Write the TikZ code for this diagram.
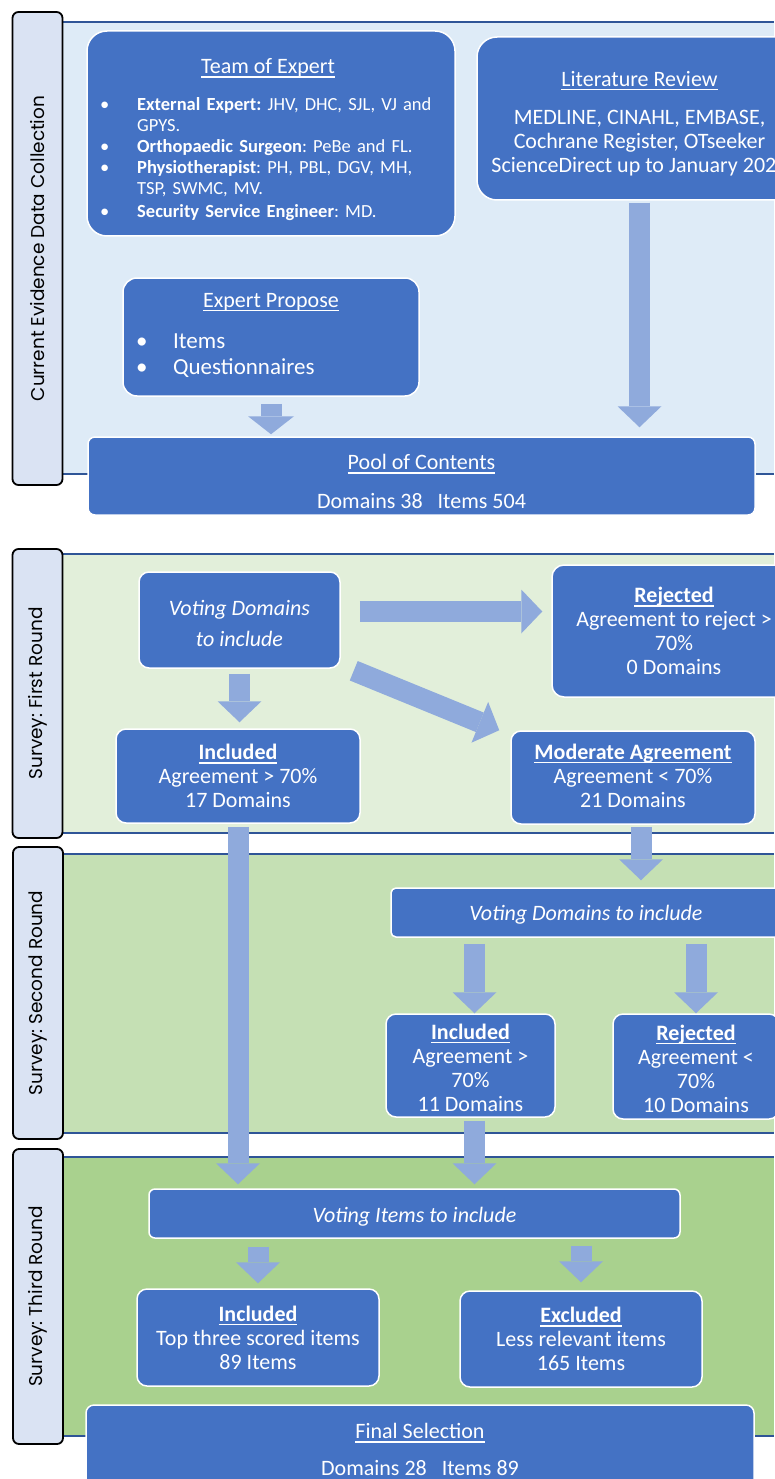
\documentclass[tikz,border=0pt]{standalone}
\usepackage{fontspec}
\setmainfont{Carlito}
\newfontfamily\sidefont{Poppins}
\usetikzlibrary{arrows.meta}
\frenchspacing

\definecolor{boxblue}{HTML}{4472C4}
\definecolor{arrowblue}{HTML}{8FAADC}
\definecolor{lineblue}{HTML}{2F5597}
\definecolor{bandA}{HTML}{DEEBF7}
\definecolor{bandB}{HTML}{E2EFDA}
\definecolor{bandC}{HTML}{C5E0B4}
\definecolor{bandD}{HTML}{A9D18E}
\definecolor{sidefill}{HTML}{DAE3F3}

\newcommand{\boxfont}{\fontsize{22}{24}\selectfont}
\newcommand{\listfont}{\fontsize{18.5}{21}\selectfont}
\newcommand{\itemfont}{\fontsize{23}{26}\selectfont}
\newcommand{\labelfont}{\sidefont\fontsize{18.5}{22}\selectfont}
\newcommand{\uln}[1]{\leavevmode\vtop{\hbox{\raisebox{0pt}[\height][0pt]{#1}}\kern2.5pt\hrule height 1.5pt}}
\newcommand{\tbul}[2]{\hangindent=#1\hangafter=1\noindent\makebox[#1][l]{\textbullet}#2\par}
\newcommand{\lift}[1]{\rule{0pt}{#1}}

\begin{document}
\begin{tikzpicture}[x=1pt,y=-1pt,
    blockarrow/.style={draw=arrowblue,line width=21pt,
      -{Triangle[length=21pt,width=44pt,line width=0pt]}},
    bandline/.style={draw=lineblue,line width=2pt}]
  \tikzstyle{bluebox}=[draw=white,line width=1.5pt,fill=boxblue,text=white,
                       align=center,inner sep=0pt,font=\boxfont]
  \tikzstyle{sidebox}=[draw=black,line width=1.8pt,fill=sidefill,rounded corners=6pt,
                       rotate=90,minimum height=50pt,inner sep=0pt,font=\labelfont]
  \tikzstyle{plain}=[text=white,inner sep=0pt]
\useasboundingbox (0,0) rectangle (774,1479);

% bands
\fill[bandA] (62,22) rectangle (774,474);
\draw[bandline] (62,22) -- (774,22) (62,474) -- (774,474);
\fill[bandB] (62,554) rectangle (774,833);
\draw[bandline] (62,554) -- (774,554) (62,833) -- (774,833);
\fill[bandC] (62,854) rectangle (774,1133);
\draw[bandline] (62,854) -- (774,854) (62,1133) -- (774,1133);
\fill[bandD] (62,1157) rectangle (774,1436);
\draw[bandline] (62,1157) -- (774,1157) (62,1436) -- (774,1436);

\node[sidebox,minimum width=473pt] (side1) at (37.5,248.5) {Current Evidence Data Collection};
\node[sidebox,minimum width=289pt] (side2) at (37.5,693.5) {Survey: First Round};
\node[sidebox,minimum width=292pt] (side3) at (38,993) {Survey: Second Round};
\node[sidebox,minimum width=295pt] (side4) at (38,1296.5) {Survey: Third Round};

% evidence collection
\node[bluebox,rounded corners=20pt,minimum width=368pt,minimum height=205pt] (team) at (271,133.5) {};
\node[plain,font=\boxfont] (team title) at (268,68) {\uln{Team of Expert}};
\node[plain,font=\listfont,text width=337pt,align=left,anchor=base west] (team list) at (100,111)
  {\raggedright
   \tbul{37pt}{\textbf{External Expert:} JHV, DHC, SJL, VJ and GPYS.}
   \tbul{37pt}{\textbf{Orthopaedic Surgeon}: PeBe and FL.}
   \tbul{37pt}{\textbf{Physiotherapist}: PH, PBL, DGV, MH, TSP, SWMC, MV.}
   \vspace{2pt}\tbul{37pt}{\textbf{Security Service Engineer}: MD.}};
\node[bluebox,rounded corners=20pt,minimum width=325pt,minimum height=163pt] (lit) at (639.5,118.5)
  {\lift{25pt}\uln{Literature Review}\\[14pt]MEDLINE, CINAHL, EMBASE,\\Cochrane Register, OTseeker\\ScienceDirect up to January 202\phantom{0}};
\node[bluebox,rounded corners=14pt,minimum width=296pt,minimum height=118pt] (propose) at (271,337) {};
\node[plain,font=\boxfont] (propose title) at (271,302) {\uln{Expert Propose}};
\node[plain,font=\itemfont,text width=200pt,align=left,anchor=base west] (propose list) at (136,348)
  {\raggedright\tbul{37pt}{Items}\tbul{37pt}{Questionnaires}};
\node[bluebox,rounded corners=7pt,minimum width=667pt,minimum height=78pt] (pool) at (421.5,476)
  {\lift{27pt}\uln{Pool of Contents}\\[15pt]Domains 38\ \ \ Items 504};

% first round
\node[bluebox,rounded corners=10pt,minimum width=201pt,minimum height=96pt,font=\boxfont\itshape] (vote1) at (239.5,620)
  {\lift{22pt}Voting Domains\\[7pt]to include};
\node[bluebox,rounded corners=12pt,minimum width=244pt,minimum height=132pt] (rej1) at (674,631)
  {\uln{\textbf{Rejected}}\\Agreement to reject >\\70\%\\0 Domains};
\node[bluebox,rounded corners=10pt,minimum width=244pt,minimum height=94pt] (inc1) at (238,776)
  {\uln{\textbf{Included}}\\Agreement > 70\%\\17 Domains};
\node[bluebox,rounded corners=10pt,minimum width=244pt,minimum height=93pt] (mod1) at (633,777.5)
  {\uln{\textbf{Moderate Agreement}}\\Agreement < 70\%\\21 Domains\rule[-4pt]{0pt}{4pt}};

% second round
\node[bluebox,rounded corners=5pt,minimum width=390pt,minimum height=49pt,font=\boxfont\itshape] (vote2) at (586,912.5)
  {\lift{20pt}Voting Domains to include};
\node[bluebox,rounded corners=10pt,minimum width=169pt,minimum height=103pt] (inc2) at (470.5,1065.5)
  {\lift{20pt}\uln{\textbf{Included}}\\Agreement >\\70\%\\11 Domains};
\node[bluebox,rounded corners=10pt,minimum width=166pt,minimum height=105pt] (rej2) at (696,1066.5)
  {\lift{20pt}\uln{\textbf{Rejected}}\\Agreement <\\70\%\\10 Domains};

% third round
\node[bluebox,rounded corners=6pt,minimum width=531pt,minimum height=49pt,font=\boxfont\itshape] (vote3) at (414.5,1213.5)
  {\lift{21pt}Voting Items to include};
\node[bluebox,rounded corners=10pt,minimum width=242pt,minimum height=97pt] (inc3) at (258,1337.5)
  {\uln{\textbf{Included}}\\Top three scored items\\89 Items};
\node[bluebox,rounded corners=10pt,minimum width=242pt,minimum height=96pt] (exc3) at (581,1339)
  {\uln{\textbf{Excluded}}\\Less relevant items\\165 Items};
\node[bluebox,rounded corners=8pt,minimum width=668pt,minimum height=89pt] (final) at (420,1449.5)
  {\uln{Final Selection}\\[13pt]Domains 28\ \ \ Items 89};

% arrows
\coordinate (r1) at ([yshift=8.5pt]vote1.east);
\coordinate (d1) at ([xshift=13pt,yshift=-2pt]vote1.south east);
\coordinate (d2) at ([xshift=-11pt]mod1.north west);
\coordinate (m1) at ([xshift=8pt]mod1.south);
\coordinate (i2n) at ([xshift=4pt]inc2.north);
\coordinate (i2s) at ([xshift=4pt]inc2.south);
\draw[blockarrow,shorten <=2pt,shorten >=9pt] (lit.south) -- (lit.south |- pool.north);
\draw[blockarrow,-{Triangle[length=18pt,width=46pt,line width=0pt]},shorten <=7pt,shorten >=2pt]
  (propose.south) -- (propose.south |- pool.north);
\draw[blockarrow,shorten <=5pt,shorten >=6pt] (vote1.south) -- (vote1.south |- inc1.north);
\draw[blockarrow,shorten <=19pt,shorten >=9pt] (r1) -- (r1 -| rej1.west);
\draw[blockarrow] (d1) -- (d2);
\draw[blockarrow,shorten <=3pt,shorten >=4pt] (inc1.south) -- (inc1.south |- vote3.north);
\draw[blockarrow,shorten <=2pt,shorten >=7pt] (m1) -- (m1 |- vote2.north);
\draw[blockarrow,shorten <=6pt] (i2n |- vote2.south) -- (i2n);
\draw[blockarrow,shorten <=6pt] (rej2.north |- vote2.south) -- (rej2.north);
\draw[blockarrow,shorten <=3pt,shorten >=4pt] (i2s) -- (i2s |- vote3.north);
\draw[blockarrow,shorten <=8pt,shorten >=5pt] (inc3.north |- vote3.south) -- (inc3.north);
\draw[blockarrow,shorten <=7pt,shorten >=8pt] (exc3.north |- vote3.south) -- (exc3.north);
\end{tikzpicture}
\end{document}
